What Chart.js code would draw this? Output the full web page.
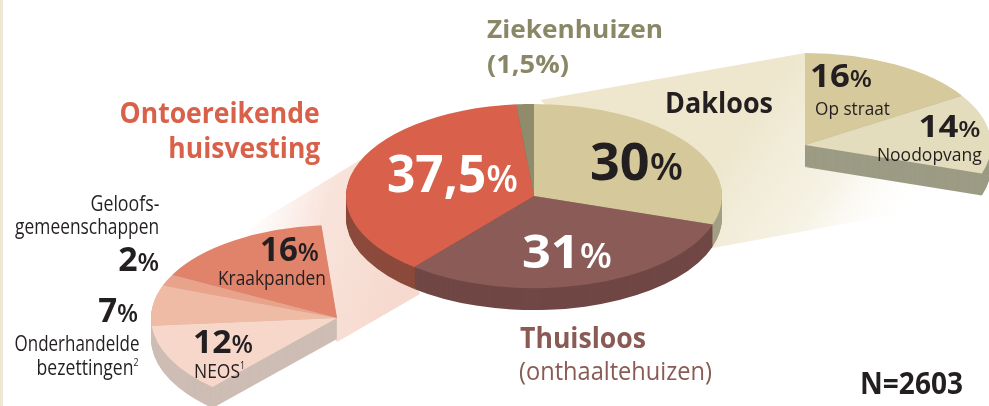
<!DOCTYPE html>
<html>
<head>
<meta charset="utf-8">
<script src="https://cdn.jsdelivr.net/npm/chart.js@4.4.1/dist/chart.umd.min.js"></script>
<style>
  html, body { margin: 0; padding: 0; background: #fff; }
  #wrap { position: relative; width: 989px; height: 406px; overflow: hidden; font-family: "Open Sans", sans-serif; }
  #wrap canvas { position: absolute; left: 0; top: 0; }
  .edge { position: absolute; left: 0; top: 0; width: 3px; height: 406px; background: #efe7d2; }
  .lbl { position: absolute; line-height: 1; white-space: nowrap; color: #231f20; }
  .lbl small { font-size: 0.74em; font-weight: 600; }
  .lbl sup { font-size: 0.5em; vertical-align: 0.9em; line-height: 0; }
</style>
</head>
<body>
<div id="wrap">
  <div class="edge"></div>
  <canvas id="c-main" width="989" height="406"></canvas>
  <canvas id="c-left" width="989" height="406"></canvas>
  <canvas id="c-right" width="989" height="406"></canvas>
</div>
<script>
// main pie, clockwise from the top
const mainLabels = ['Dakloos', 'Thuisloos', 'Ontoereikende huisvesting', 'Ziekenhuizen'];
const mainValues = [30, 31, 37.5, 1.5];

// breakdown of ontoereikende huisvesting
const leftLabels = ['NEOS', 'Onderhandelde bezettingen', 'Geloofsgemeenschappen', 'Kraakpanden'];
const leftValues = [12, 7, 2, 16];

// breakdown of dakloos
const rightLabels = ['Op straat', 'Noodopvang'];
const rightValues = [16, 14];

const total = 2603;

const sum = a => a.reduce((s, v) => s + v, 0);

function drawBeams(ctx) {
    // pale fans that link the main slices to their breakdowns
    let g = ctx.createLinearGradient(250, 220, 400, 260);
    g.addColorStop(0, 'rgba(243,205,190,0)');
    g.addColorStop(0.45, 'rgba(243,205,190,0.55)');
    g.addColorStop(1, 'rgba(243,205,190,0.75)');
    ctx.fillStyle = g;
    ctx.beginPath();
    ctx.moveTo(245, 230); ctx.lineTo(360, 160); ctx.lineTo(420, 294); ctx.lineTo(337, 342);
    ctx.closePath(); ctx.fill();

    g = ctx.createLinearGradient(740, 130, 900, 240);
    g.addColorStop(0, 'rgba(236,228,200,0.9)');
    g.addColorStop(0.55, 'rgba(240,234,212,0.6)');
    g.addColorStop(1, 'rgba(255,255,255,0)');
    ctx.fillStyle = g;
    ctx.beginPath();
    ctx.moveTo(540, 100); ctx.lineTo(805, 53); ctx.lineTo(985, 198); ctx.lineTo(713, 248);
    ctx.closePath(); ctx.fill();
}

// squash the pie into an ellipse and give it a rim
const tilt = {
    id: 'tilt',
    beforeDatasetsDraw(chart, args, o) {
        const ctx = chart.ctx;
        if (o.beams) drawBeams(ctx);
        const arcs = chart.getDatasetMeta(0).data;
        for (let d = o.depth; d >= 1; d--) {
            arcs.forEach((arc, i) => {
                const p = arc.getProps(['startAngle', 'endAngle', 'outerRadius']);
                ctx.save();
                ctx.translate(o.cx, o.cy + d);
                ctx.scale(1, o.ky);
                ctx.fillStyle = o.side[i];
                ctx.beginPath();
                ctx.moveTo(0, 0);
                ctx.arc(0, 0, p.outerRadius, p.startAngle, p.endAngle);
                ctx.closePath();
                ctx.fill();
                ctx.restore();
            });
        }
        ctx.save();
        ctx.translate(o.cx, o.cy);
        ctx.scale(1, o.ky);
        ctx.translate(-arcs[0].x, -arcs[0].y);
    },
    afterDatasetsDraw(chart) {
        chart.ctx.restore();
    }
};

function pie(id, labels, values, colors, rotation, radius, tiltOpts) {
    return new Chart(document.getElementById(id), {
        type: 'pie',
        data: { labels: labels, datasets: [{ data: values, backgroundColor: colors, borderWidth: 0, clip: false }] },
        options: {
            responsive: false, animation: false, events: [],
            rotation: rotation,
            circumference: sum(values) / 100 * 360,
            radius: radius,
            plugins: { legend: { display: false }, tooltip: { enabled: false }, tilt: tiltOpts }
        },
        plugins: [tilt]
    });
}

pie('c-main', mainLabels, mainValues, ['#d5c99b', '#8a5b57', '#d9614b', '#8f8b6b'], 0, 188,
    { cx: 534, cy: 196, ky: 0.49, depth: 22, side: ['#a39f84', '#704745', '#8b4a3b', '#6f6c55'], beams: true });

pie('c-left', leftLabels, leftValues, ['#f6d7ca', '#efbba5', '#e9a38b', '#e0836a'], 222, 186,
    { cx: 337, cy: 318, ky: 0.5, depth: 21, side: ['#cdbdb4', '#cdbdb4', '#cdbdb4', '#d5c5bc'] });

pie('c-right', rightLabels, rightValues, ['#d6ca9c', '#e4ddbd'], 0, 186,
    { cx: 805, cy: 145, ky: 0.495, depth: 22, side: ['#9c9b84', '#9c9b84'] });

// text; w = width of the label in the original, the font is squeezed to fit
const fmt = v => String(v).replace('.', ',');
const pct = v => fmt(v) + '<small>%</small>';
const wrap = document.getElementById('wrap');
function lbl(html, x, capTop, fs, w, o) {
    o = o || {};
    const d = document.createElement('div');
    d.className = 'lbl';
    d.innerHTML = html;
    d.style.fontSize = fs + 'px';
    d.style.fontWeight = o.bold ? 700 : 400;
    if (o.color) d.style.color = o.color;
    if (o.right) d.style.right = (989 - x) + 'px'; else d.style.left = x + 'px';
    d.style.top = (capTop - 0.175 * fs) + 'px';
    wrap.appendChild(d);
    const s = w / d.getBoundingClientRect().width;
    d.style.transformOrigin = o.right ? 'right top' : 'left top';
    d.style.transform = 'scaleX(' + s.toFixed(3) + ')';
}

const red = '#d9614a', olive = '#8a8766', brown = '#8a5a55';
lbl('Ontoereikende', 320, 102, 29, 200, { bold: true, right: true, color: red });
lbl('huisvesting', 320, 137, 29, 152, { bold: true, right: true, color: red });
lbl('Ziekenhuizen', 487, 20, 25, 176, { bold: true, color: olive });
lbl('(' + fmt(mainValues[3]) + '%)', 487, 55, 25, 82, { bold: true, color: olive });
lbl(pct(mainValues[2]), 387, 155, 52, 131, { bold: true, color: '#fff' });
lbl(pct(mainValues[0]), 590, 143, 52, 93, { bold: true });
lbl(pct(mainValues[1]), 522, 235, 46, 90, { bold: true, color: '#fff' });
lbl(mainLabels[0], 665, 92, 29, 108, { bold: true });
lbl('Thuisloos', 520, 328, 28, 126, { bold: true, color: brown });
lbl('(onthaaltehuizen)', 519, 362, 25, 193, { color: brown });
lbl('N=' + total, 860, 373, 30, 103, { bold: true });

lbl(pct(rightValues[0]), 810, 65, 32, 62, { bold: true });
lbl(rightLabels[0], 815, 102, 18, 75);
lbl(pct(rightValues[1]), 980, 116, 30, 62, { bold: true, right: true });
lbl(rightLabels[1], 982, 148, 19, 105, { right: true });

lbl('Geloofs-', 159, 197, 21, 69, { right: true });
lbl('gemeenschappen', 159, 220, 21, 144, { right: true });
lbl(pct(leftValues[2]), 159, 247, 34, 41, { bold: true, right: true });
lbl(pct(leftValues[1]), 138, 298, 34, 40, { bold: true, right: true });
lbl('Onderhandelde', 139, 337, 21, 125, { right: true });
lbl('bezettingen<sup>2</sup>', 139, 361, 21, 102, { right: true });
lbl(pct(leftValues[3]), 260, 237, 34, 59, { bold: true });
lbl(leftLabels[3], 218, 271, 20, 108);
lbl(pct(leftValues[0]), 193, 330, 33, 60, { bold: true });
lbl(leftLabels[0] + '<sup>1</sup>', 194, 364, 20, 51);
</script>
</body>
</html>
